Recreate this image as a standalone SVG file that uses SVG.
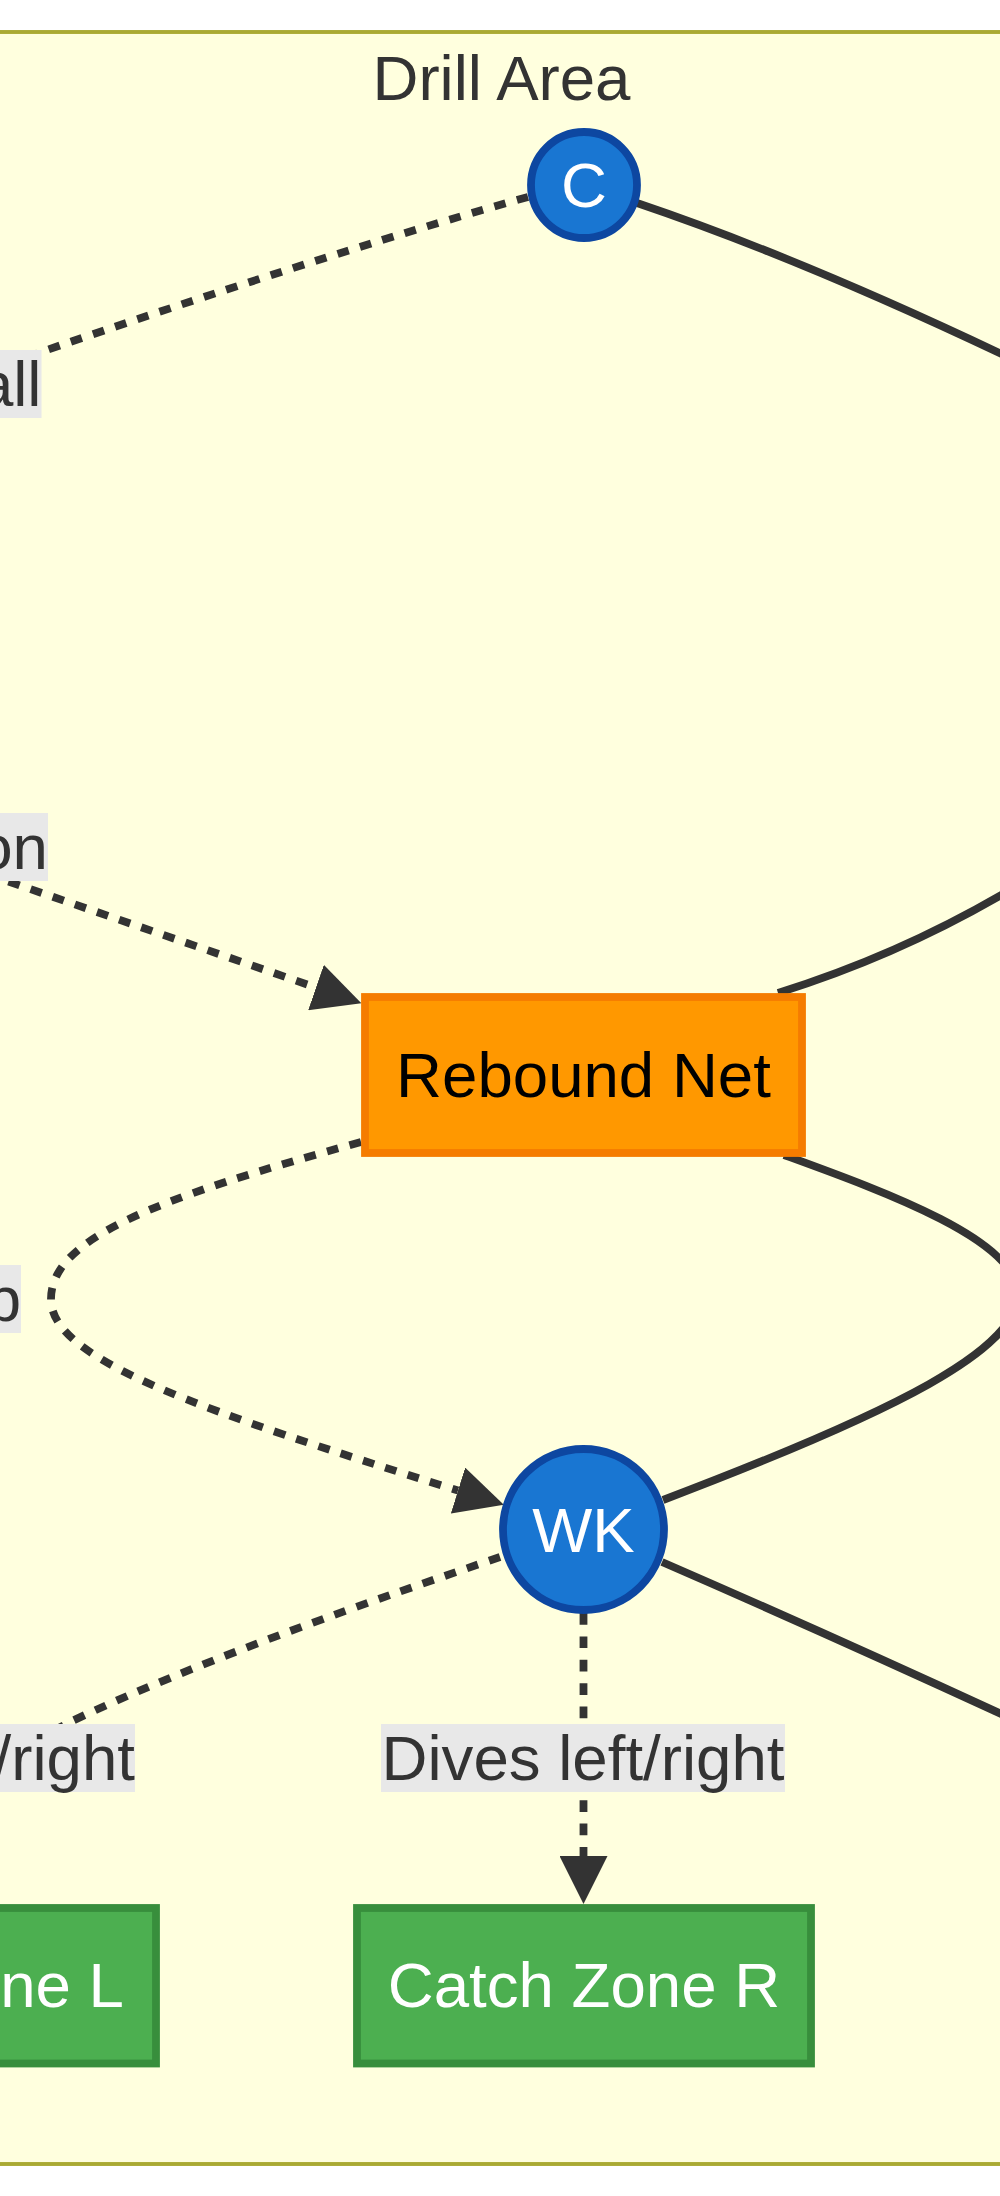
<svg xmlns="http://www.w3.org/2000/svg" width="1000" height="2196" viewBox="0 0 1000 2196">
<defs>
<style>
text{font-family:"Liberation Sans",Arial,sans-serif;font-size:63.6px}
.edge{fill:none;stroke:#333333;stroke-width:7.8}
.dotted{stroke-dasharray:11.7 11.7}
.lbl-bg{fill:#e8e8e8}
.lbl{fill:#333333}
.circ{fill:#1976d2;stroke:#0d47a1;stroke-width:7.8}
.net{fill:#ff9800;stroke:#f57c00;stroke-width:7.8}
.zone{fill:#4caf50;stroke:#388e3c;stroke-width:7.8}
.wt{fill:#ffffff}
</style>
<marker id="arrow" viewBox="0 0 10 10" refX="0" refY="5" markerWidth="48" markerHeight="48" markerUnits="userSpaceOnUse" orient="auto"><path d="M0,0 L10,5 L0,10 z" fill="#333333"/></marker>
</defs>
<rect width="1000" height="2196" fill="#ffffff"/>
<g id="cluster-drill-area">
<rect x="-50" y="32" width="1100" height="2132" fill="#ffffde" stroke="#aaaa33" stroke-width="3.9"/>
<text x="501.5" y="100" text-anchor="middle" fill="#333333">Drill Area</text>
</g>
<g id="edges">
<path class="edge dotted" d="M528,197 C420,227 250,280 41,352 L-60,390"/>
<path class="edge" d="M637,203 Q800,258 1010,358"/>
<path class="edge" d="M1010,890 Q900,955 778,993"/>
<path class="edge dotted" d="M-80,851 L316,987.5" marker-end="url(#arrow)"/>
<path class="edge dotted" d="M361,1142 C150,1200 50,1240 51,1300 C52,1360 200,1410 458,1490.5" marker-end="url(#arrow)"/>
<path class="edge" d="M784,1155 C880,1190 1020,1240 1018,1295 C1016,1350 900,1410 663,1500"/>
<path class="edge dotted" d="M500,1557 C380,1598 200,1660 70,1722 L-40,1780"/>
<path class="edge dotted" d="M583.5,1613 L583.5,1856" marker-end="url(#arrow)"/>
<path class="edge" d="M662,1562 Q830,1635 1010,1718"/>
</g>
<g id="edge-labels">
<g><rect class="lbl-bg" x="-30" y="350" width="71.5" height="68"/><text class="lbl" x="41.5" y="406" text-anchor="end">all</text></g>
<g><rect class="lbl-bg" x="-30" y="813" width="78" height="68"/><text class="lbl" x="48" y="869" text-anchor="end">on</text></g>
<g><rect class="lbl-bg" x="-30" y="1265" width="51" height="68"/><text class="lbl" x="21" y="1321" text-anchor="end">p</text></g>
<g><rect class="lbl-bg" x="-30" y="1724" width="165" height="68"/><text class="lbl" x="135" y="1780" text-anchor="end">/right</text></g>
<g><rect class="lbl-bg" x="381" y="1724" width="404" height="68"/><text class="lbl" x="583" y="1780" text-anchor="middle">Dives left/right</text></g>
</g>
<g id="node-C">
<circle class="circ" cx="584" cy="185" r="53"/>
<text class="wt" x="584" y="207" text-anchor="middle">C</text>
</g>
<g id="node-ReboundNet">
<rect class="net" x="365" y="997" width="437" height="156"/>
<text x="583.5" y="1097" text-anchor="middle" fill="#000000">Rebound Net</text>
</g>
<g id="node-WK">
<circle class="circ" cx="583.5" cy="1529.5" r="80.5"/>
<text class="wt" x="583.5" y="1552" text-anchor="middle">WK</text>
</g>
<g id="node-CatchZoneL">
<rect class="zone" x="-288" y="1908" width="444" height="155.5"/>
<text class="wt" x="124" y="2007" text-anchor="end">ne L</text>
</g>
<g id="node-CatchZoneR">
<rect class="zone" x="357" y="1908" width="454" height="155.5"/>
<text class="wt" x="584" y="2007" text-anchor="middle">Catch Zone R</text>
</g>
</svg>
